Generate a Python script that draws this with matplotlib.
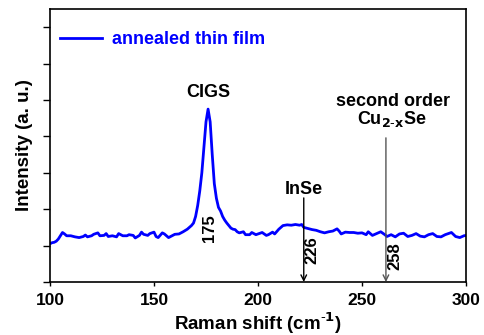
import matplotlib
matplotlib.use("Agg")
import matplotlib.pyplot as plt

plt.rcParams['font.family'] = ['Liberation Sans', 'DejaVu Sans']

raman_shift = [100, 101, 102, 103, 104, 105, 106, 107, 108, 110, 112, 114, 116, 117, 118, 120, 121, 123, 124,
               126, 127, 128, 130, 132, 133, 135, 137, 138, 140, 141, 143, 144, 145, 147, 148, 150, 151, 152,
               154, 155, 157, 158, 160, 162, 164, 166, 168, 169, 170, 171, 172, 173, 174, 175, 176, 177, 178,
               179, 180, 181, 182, 183, 184, 185, 186, 187, 188, 189, 190, 191, 193, 194, 196, 197, 199, 200,
               202, 204, 205, 207, 208, 210, 212, 214, 216, 218, 220, 221, 222, 224, 226, 228, 230, 232, 234,
               236, 238, 239, 240, 242, 244, 246, 248, 250, 252, 253, 255, 257, 259, 261, 262, 264, 266, 268,
               270, 272, 274, 276, 278, 280, 282, 284, 286, 288, 290, 292, 293, 295, 297, 299, 300]
intensity = [1.05, 1.08, 1.09, 1.12, 1.18, 1.27, 1.36, 1.32, 1.27, 1.27, 1.24, 1.22, 1.25, 1.29, 1.24, 1.27, 1.31,
             1.35, 1.27, 1.28, 1.33, 1.25, 1.27, 1.24, 1.33, 1.27, 1.27, 1.30, 1.28, 1.21, 1.28, 1.37, 1.31, 1.28,
             1.33, 1.37, 1.25, 1.22, 1.35, 1.32, 1.22, 1.25, 1.31, 1.32, 1.38, 1.45, 1.55, 1.62, 1.80, 2.10, 2.50,
             3.00, 3.70, 4.40, 4.75, 4.40, 3.50, 2.70, 2.30, 2.05, 1.95, 1.80, 1.70, 1.62, 1.55, 1.48, 1.45, 1.44,
             1.38, 1.35, 1.38, 1.30, 1.30, 1.36, 1.30, 1.32, 1.36, 1.28, 1.30, 1.37, 1.32, 1.45, 1.55, 1.57, 1.56,
             1.58, 1.56, 1.58, 1.50, 1.47, 1.44, 1.42, 1.38, 1.35, 1.38, 1.40, 1.46, 1.40, 1.32, 1.37, 1.36, 1.36,
             1.34, 1.35, 1.30, 1.38, 1.28, 1.33, 1.38, 1.30, 1.25, 1.30, 1.24, 1.32, 1.34, 1.25, 1.28, 1.33, 1.26,
             1.24, 1.30, 1.33, 1.25, 1.24, 1.30, 1.34, 1.36, 1.25, 1.22, 1.27, 1.28]

xticks = [100, 150, 200, 250, 300]
yticks = [0, 1, 2, 3, 4, 5, 6, 7]
series_label = "annealed thin film"

fig = plt.figure(figsize=(4.84, 3.35), dpi=100)
ax = fig.add_axes([50/484, 1-282/335, 416/484, 273/335])

ax.plot(raman_shift, intensity, color='#0000ff', lw=2.0, label=series_label)
ax.set_xlim(100, 300)
ax.set_ylim(0, 7.5)
ax.set_xticks(xticks)
ax.set_yticks(yticks)
ax.set_yticklabels([])
ax.tick_params(axis='x', direction='out', length=3, width=1, labelsize=12.5, pad=5)
ax.tick_params(axis='y', direction='out', length=5, width=1)
for lab in ax.get_xticklabels():
    lab.set_fontweight('bold')
for s in ax.spines.values():
    s.set_linewidth(1.2)

ax.set_xlabel("Raman shift (cm$^{\\mathbf{\\text{-}1}}$)", fontsize=13.5, fontweight='bold')
ax.xaxis.set_label_coords(0.5, -0.104)
ax.set_ylabel("Intensity (a. u.)", fontsize=13.5, fontweight='bold')
ax.yaxis.set_label_coords(-0.042, 0.5)

leg = ax.legend(loc='center left', bbox_to_anchor=(0.024, 0.888), frameon=False, fontsize=13,
                handlelength=2.3, handletextpad=0.6, borderaxespad=0, borderpad=0)
for t in leg.get_texts():
    t.set_color('#0000ff')
    t.set_fontweight('bold')

ax.text(176, 4.97, "CIGS", ha='center', va='bottom', fontsize=13, fontweight='bold')
ax.text(176.6, 1.48, "175", ha='center', va='center', rotation=90, fontsize=12, fontweight='bold')

ax.annotate("", xy=(222, 0.0), xytext=(222, 2.31),
            arrowprops=dict(arrowstyle='->', color='black', lw=1.0, shrinkA=0, shrinkB=0))
ax.text(222, 2.55, "InSe", ha='center', va='center', fontsize=13, fontweight='bold')
ax.text(225.8, 0.88, "226", ha='center', va='center', rotation=90, fontsize=12, fontweight='bold')

ax.annotate("", xy=(261.5, 0.0), xytext=(261.5, 3.96),
            arrowprops=dict(arrowstyle='->', color='#555555', lw=1.0, shrinkA=0, shrinkB=0))
ax.text(265, 4.96, "second order", ha='center', va='center', fontsize=13, fontweight='bold')
ax.text(264.5, 4.48, "Cu$_{\\mathbf{2\\text{-}x}}$Se", ha='center', va='center', fontsize=13, fontweight='bold')
ax.text(266, 0.71, "258", ha='center', va='center', rotation=90, fontsize=12, fontweight='bold')

fig.savefig("out.png", dpi=100)
